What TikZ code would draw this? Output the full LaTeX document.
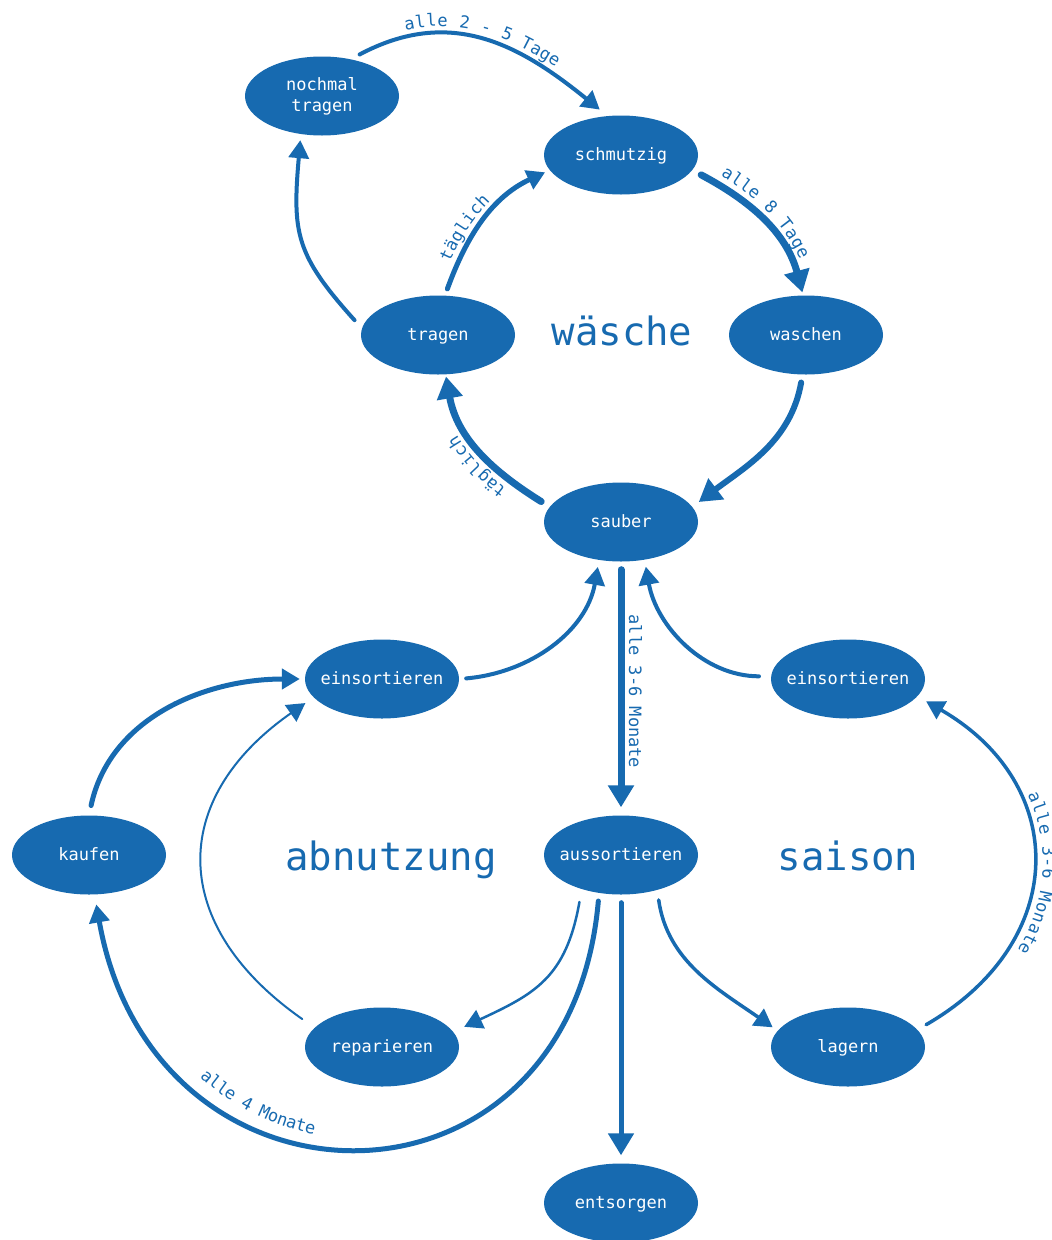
\documentclass[tikz,border=0pt]{standalone}
\usepackage{fontspec}
\newfontfamily\monofont{DejaVu Sans Mono}
\usetikzlibrary{shapes.geometric,arrows.meta,decorations.text}
\definecolor{wblue}{HTML}{176AB0}
\newcommand\lblfont{\monofont\fontsize{17}{20}\selectfont\color{wblue}}
\newcommand\nb[1]{\makebox[40pt][c]{#1}}
\begin{document}
\begin{tikzpicture}[x=1pt,y=1pt,
  state/.style={ellipse, fill=wblue, text=white, minimum width=154pt, minimum height=79pt,
    inner sep=0pt, font=\monofont\fontsize{17}{21}\selectfont, align=center},
  st/.style={state, text height=13pt, text depth=3pt},
  link/.style={draw=wblue, line cap=round, line width=#1},
  tipS/.style={-{Triangle[length=18pt,width=20pt]}},
  tipL/.style={-{Triangle[length=22pt,width=25pt]}},
  title/.style={text=wblue, font=\monofont\fontsize{39}{44}\selectfont, anchor=base, inner sep=0pt},
  lblpath/.style n args={3}{decorate, decoration={text along path,
    text={|\lblfont|#1}, text align={left indent=#2}, raise=#3}},
  lbl/.style n args={3}{postaction={lblpath={#1}{#2}{#3}}}
]
\path[fill=white, use as bounding box] (0,0) rectangle (1052,-1240);

% nodes
\node[state] (nochmal) at (322,-96) {nochmal\\tragen};
\node[st] (schmutzig) at (621,-155) {\nb{schmutzig}};
\node[st] (tragen) at (438,-335) {\nb{tragen}};
\node[st] (waschen) at (806,-335) {\nb{waschen}};
\node[st] (sauber) at (621,-522) {\nb{sauber}};
\node[st] (einsL) at (382,-679) {\nb{einsortieren}};
\node[st] (einsR) at (848,-679) {\nb{einsortieren}};
\node[st] (kaufen) at (89,-855) {\nb{kaufen}};
\node[st] (aussort) at (621,-855) {\nb{aussortieren}};
\node[st] (reparieren) at (382,-1047) {\nb{reparieren}};
\node[st] (lagern) at (848,-1047) {\nb{lagern}};
\node[st] (entsorgen) at (621,-1203) {\nb{entsorgen}};

% titles
\node[title] (twaesche) at (622,-345) {wäsche};
\node[title] (tabnutzung) at (391,-870) {abnutzung};
\node[title] (tsaison) at (848,-870) {saison};

% wäsche cycle
\draw[link=4pt, tipS, shorten <=10pt, shorten >=10pt, lbl={alle 2 - 5 Tage}{60pt}{8pt}]
  (nochmal.52) to[out=28,in=141,looseness=1.1] (schmutzig.109);
\draw[link=7pt, tipL, shorten <=10pt, shorten >=3pt, lbl={alle 8 Tage}{27pt}{9pt}]
  (schmutzig.-12) to[out=-28,in=105] (waschen.94);
\draw[link=5pt, tipS, shorten <=7pt, shorten >=5pt, lbl={täglich}{32pt}{8pt}]
  (tragen.80) to[out=70,in=205] (schmutzig.192);
\draw[link=4pt, tipS, shorten <=11pt, shorten >=6pt]
  (tragen.175) to[out=132,in=-95,looseness=1.25] (nochmal.241);
\draw[link=6pt, tipL, shorten <=8pt, shorten >=8pt]
  (waschen.265) to[out=-100,in=37] (sauber.12);
\draw[link=7pt, tipL, shorten <=10pt, shorten >=2pt, lbl={täglich}{44pt}{10pt}]
  (sauber.168) to[out=148,in=-80] (tragen.-79);

% sauber <-> aussortieren
\draw[link=7pt, tipL, shorten <=8pt, shorten >=8pt, lbl={alle 3-6 Monate}{53pt}{8pt}]
  (sauber.south) -- (aussort.north);
\draw[link=4pt, tipS, shorten <=7pt, shorten >=7pt]
  (einsL.east) to[out=5,in=-100] (sauber.240);
\draw[link=4pt, tipS, shorten <=12pt, shorten >=7pt]
  (einsR.178) to[out=180,in=-80] (sauber.-58);

% abnutzung
\draw[link=5pt, tipS, shorten <=10pt, shorten >=5pt]
  (kaufen.north) to[out=78,in=180] (einsL.west);
\draw[link=2pt, tipS, shorten <=15pt, shorten >=10pt]
  (reparieren.164) to[out=145,in=-145,distance=178] (einsL.195);
\draw[link=2.5pt, tipS, shorten <=13pt, shorten >=12pt]
  (aussort.221) to[out=-100,in=25,looseness=1.2] (reparieren.12);
\draw[link=5pt, tipS, shorten <=8pt, shorten >=10pt]
  (aussort.240) to[out=-95,in=-80,distance=340] (kaufen.278);
\path[lblpath={alle 4 Monate}{218pt}{8pt}]
  (kaufen.278) to[out=-80,in=-95,distance=340] (aussort.240);
\draw[link=5pt, tipL, shorten <=8pt, shorten >=8pt]
  (aussort.south) -- (entsorgen.north);

% saison
\draw[link=3.5pt, tipS, shorten <=10pt, shorten >=6pt]
  (aussort.-44) to[out=-82,in=145] (lagern.167);
\draw[link=3.5pt, tipS, shorten <=10pt, shorten >=10pt]
  (lagern.14) to[out=30,in=-30,distance=176] (einsR.-14);
\path[lblpath={alle 3-6 Monate}{145pt}{11pt}]
  (einsR.-14) to[out=-30,in=30,distance=176] (lagern.14);
\end{tikzpicture}
\end{document}
